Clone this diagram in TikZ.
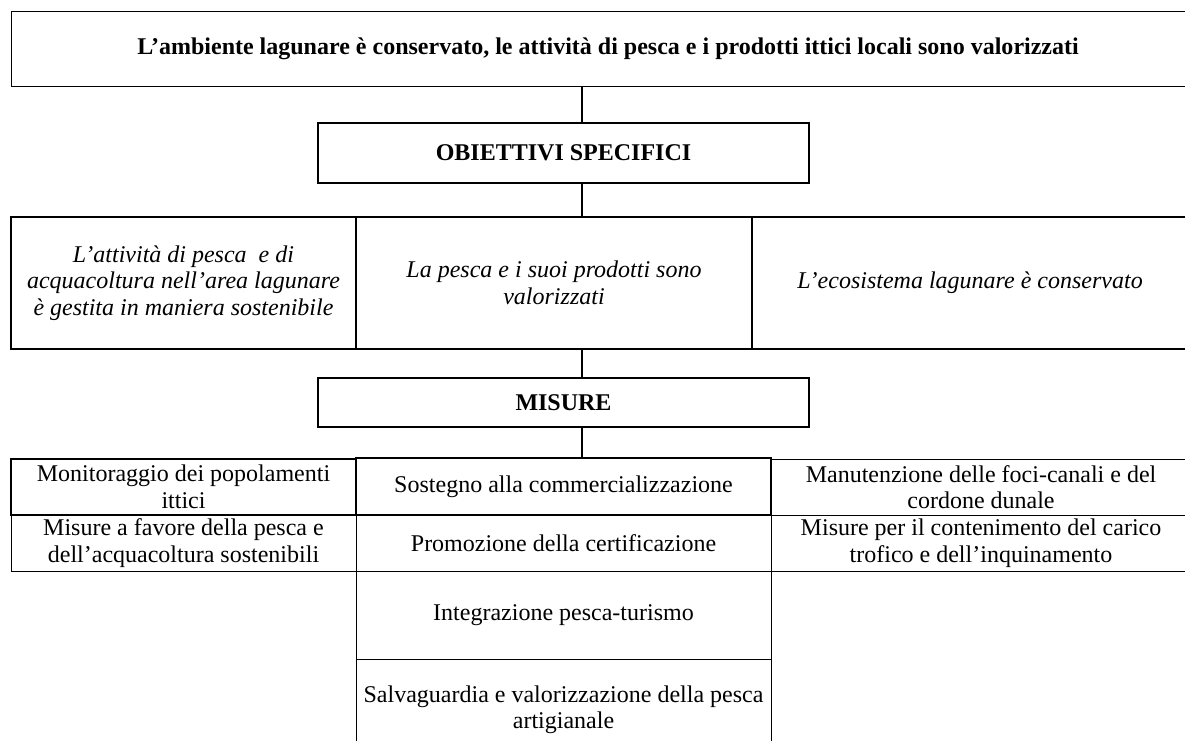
\documentclass[tikz,border=0pt]{standalone}
\usepackage{fontspec}
\setmainfont{Liberation Serif}
\newcommand{\fsz}{\fontsize{24}{26.5}\selectfont}
\begin{document}
\begin{tikzpicture}[x=1pt,y=-1pt,
  cell/.style={draw, rectangle, inner sep=0pt, outer sep=0pt, anchor=north west, align=center, font=\fsz},
  lnthin/.style={line width=1pt},
  lnthick/.style={line width=1.7pt},
  conn/.style={draw, line width=1.1pt}]
\useasboundingbox (0,0) rectangle (1185,740);
% top goal
\node[cell, lnthin, font=\fsz\bfseries, minimum width=1194pt, minimum height=75pt] (top) at (11,11)
  {L’ambiente lagunare è conservato, le attività di pesca e i prodotti ittici locali sono valorizzati};
% specific objectives header
\node[cell, lnthick, font=\fsz\bfseries, minimum width=491pt, minimum height=60pt] (obi) at (318,123) {OBIETTIVI SPECIFICI};
% objectives
\node[cell, lnthick, font=\fsz\itshape, minimum width=345pt, minimum height=132pt] (obj1) at (11,217)
  {L’attività di pesca\ \ e di\\acquacoltura nell’area lagunare\\è gestita in maniera sostenibile};
\node[cell, lnthick, font=\fsz\itshape, minimum width=396pt, minimum height=132pt] (obj2) at (356,217)
  {La pesca e i suoi prodotti sono\\valorizzati};
\node[cell, lnthick, font=\fsz\itshape, minimum width=436pt, minimum height=132pt] (obj3) at (752,217)
  {L’ecosistema lagunare è conservato};
% measures header
\node[cell, lnthick, font=\fsz\bfseries, minimum width=491pt, minimum height=49pt] (mis) at (318,378) {MISURE};
% measures, right column
\node[cell, lnthin, minimum width=420pt, minimum height=56pt] (m3a) at (771,459)
  {Manutenzione delle foci-canali e del\\cordone dunale};
\node[cell, lnthin, minimum width=420pt, minimum height=56pt] (m3b) at (771,515)
  {Misure per il contenimento del carico\\trofico e dell’inquinamento};
% measures, middle column
\node[cell, lnthin, minimum width=415pt, minimum height=56pt] (m2b) at (356,515)
  {Promozione della certificazione};
\node[cell, lnthin, minimum width=415pt, minimum height=88pt] (m2c) at (356,571)
  {Integrazione pesca-turismo};
\node[cell, lnthin, minimum width=415pt, minimum height=101pt] (m2d) at (356,659)
  {Salvaguardia e valorizzazione della pesca\\artigianale};
\node[cell, lnthick, minimum width=415pt, minimum height=57pt] (m2a) at (356,458)
  {Sostegno alla commercializzazione};
% measures, left column
\node[cell, lnthin, minimum width=345pt, minimum height=56pt] (m1b) at (11,515)
  {Misure a favore della pesca e\\dell’acquacoltura sostenibili};
\node[cell, lnthick, minimum width=345pt, minimum height=56pt] (m1a) at (11,459)
  {Monitoraggio dei popolamenti\\ittici};
% connectors
\coordinate (cx) at (582,0);
\draw[conn] (cx |- top.south) -- (cx |- obi.north);
\draw[conn] (cx |- obi.south) -- (cx |- obj2.north);
\draw[conn] (cx |- obj2.south) -- (cx |- mis.north);
\draw[conn] (cx |- mis.south) -- (cx |- m2a.north);
\end{tikzpicture}
\end{document}
